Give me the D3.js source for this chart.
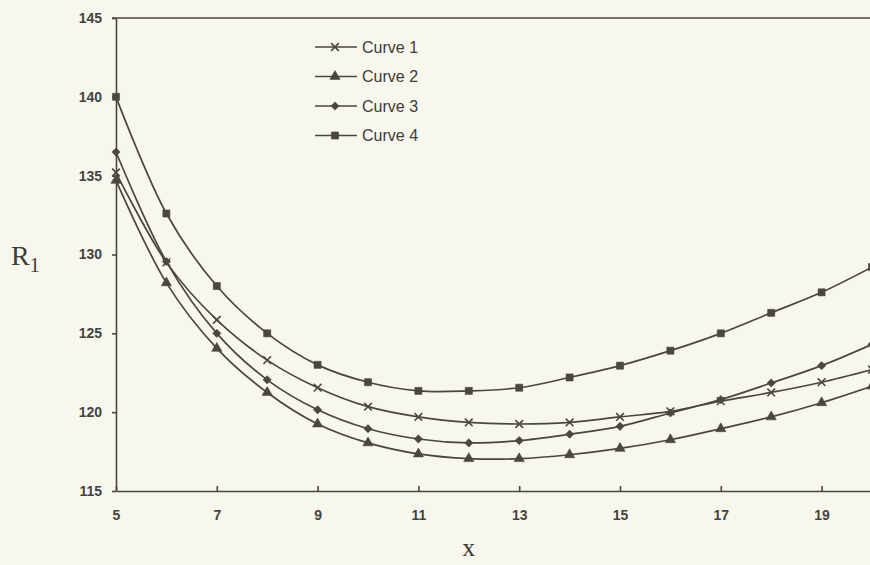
<html>
<head>
<meta http-equiv="Content-Type" content="text/html; charset=utf-8">
<title>R1 versus x</title>
<style type="text/css">
	body { margin: 0; background: #f7f7ed; }
	svg { display: block; background: #f7f7ed; }
	.axis path, .axis line { stroke: #4a4640; stroke-width: 1.6; }
	.axis text { font-family: "Liberation Sans", Arial, sans-serif; font-size: 14px; font-weight: bold; fill: #46423c; }
	.legend text { font-family: "Liberation Sans", Arial, sans-serif; font-size: 16px; fill: #3f3b36; }
</style>
<script src="https://d3js.org/d3.v7.min.js" charset="utf-8"></script>
</head>
<body>
<svg id="chart" width="870" height="565"></svg>
<script type="text/javascript">

// data
var xValues = [5, 6, 7, 8, 9, 10, 11, 12, 13, 14, 15, 16, 17, 18, 19, 20];
var curve1 = [135.2, 129.5, 125.85, 123.3, 121.55, 120.35, 119.7, 119.35, 119.25, 119.35, 119.7, 120.05, 120.7, 121.25, 121.9, 122.7];
var curve2 = [134.7, 128.2, 124.05, 121.25, 119.25, 118.05, 117.35, 117.05, 117.05, 117.3, 117.7, 118.25, 118.95, 119.7, 120.6, 121.65];
var curve3 = [136.5, 129.55, 125.0, 122.05, 120.15, 118.95, 118.3, 118.05, 118.2, 118.6, 119.1, 119.95, 120.8, 121.85, 122.95, 124.3];
var curve4 = [140.0, 132.6, 128.0, 125.0, 123.0, 121.9, 121.35, 121.35, 121.55, 122.2, 122.95, 123.9, 125.0, 126.3, 127.6, 129.2];
var seriesNames = ["Curve 1", "Curve 2", "Curve 3", "Curve 4"];
var xTicks = [5, 7, 9, 11, 13, 15, 17, 19];
var yTicks = [115, 120, 125, 130, 135, 140, 145];

var ink = "#4a4640";
var svg = d3.select("#chart");

var x = d3.scaleLinear().domain([5, 20]).range([116, 872]);
var y = d3.scaleLinear().domain([115, 145]).range([491, 18]);

var series = [curve1, curve2, curve3, curve4].map(function(vals, i) {
	return { name: seriesNames[i], values: vals.map(function(v, j) { return { x: xValues[j], y: v }; }) };
});

// diamond drawn as a square turned 45 degrees
var symbols = [d3.symbolTimes, d3.symbolTriangle, d3.symbolSquare, d3.symbolSquare];
var symSize = [40, 45, 34, 50];
var symTurn = [0, 0, 45, 0];

function marker(sel, i, cx, cy) {
	var p = sel.append("path")
		.attr("d", d3.symbol().type(symbols[i]).size(symSize[i])())
		.attr("transform", "translate(" + cx + "," + cy + ") rotate(" + symTurn[i] + ")");
	if (i === 0) p.attr("fill", "none").attr("stroke", ink).attr("stroke-width", 1.6);
	else p.attr("fill", ink).attr("stroke", ink).attr("stroke-width", 0.6);
	return p;
}

// plot border top
svg.append("line")
	.attr("x1", x(5) - 4).attr("x2", 870)
	.attr("y1", y(145)).attr("y2", y(145))
	.attr("stroke", ink).attr("stroke-width", 1.6);

// curves
var line = d3.line()
	.x(function(d) { return x(d.x); })
	.y(function(d) { return y(d.y); })
	.curve(d3.curveCatmullRom);

var g = svg.append("g");
series.forEach(function(s, i) {
	g.append("path")
		.attr("d", line(s.values))
		.attr("fill", "none")
		.attr("stroke", ink)
		.attr("stroke-width", 1.7);
	s.values.forEach(function(d) {
		marker(g, i, x(d.x), y(d.y));
	});
});

// axes
svg.append("g").attr("class", "axis")
	.attr("transform", "translate(" + x(5) + ",0)")
	.call(d3.axisLeft(y).tickValues(yTicks).tickSizeInner(4).tickSizeOuter(0).tickPadding(10));

svg.append("g").attr("class", "axis")
	.attr("transform", "translate(0," + y(115) + ")")
	.call(d3.axisBottom(x).tickValues(xTicks).tickSizeInner(-5).tickSizeOuter(0).tickPadding(19));

// axis titles
svg.append("text")
	.attr("x", x(12)).attr("y", 556)
	.attr("text-anchor", "middle")
	.style("font-family", "'Liberation Serif', 'Times New Roman', serif")
	.style("font-size", "26px").style("fill", "#3f3b36")
	.text("x");

var rt = svg.append("text")
	.attr("x", 11).attr("y", 265)
	.style("font-family", "'Liberation Serif', 'Times New Roman', serif")
	.style("font-size", "28px").style("fill", "#3f3b36");
rt.append("tspan").text("R");
rt.append("tspan").attr("dy", 7).style("font-size", "20px").text("1");

// legend
var legend = svg.append("g").attr("class", "legend");
seriesNames.forEach(function(name, i) {
	var ly = 47 + i * 29.5;
	var row = legend.append("g").attr("transform", "translate(0," + ly + ")");
	row.append("line").attr("x1", 315).attr("x2", 357).attr("y1", 0).attr("y2", 0)
		.attr("stroke", ink).attr("stroke-width", 1.7);
	marker(row, i, 335, 0);
	row.append("text").attr("x", 362).attr("y", 0).attr("dy", "0.35em").text(name);
});

</script>
</body>
</html>
